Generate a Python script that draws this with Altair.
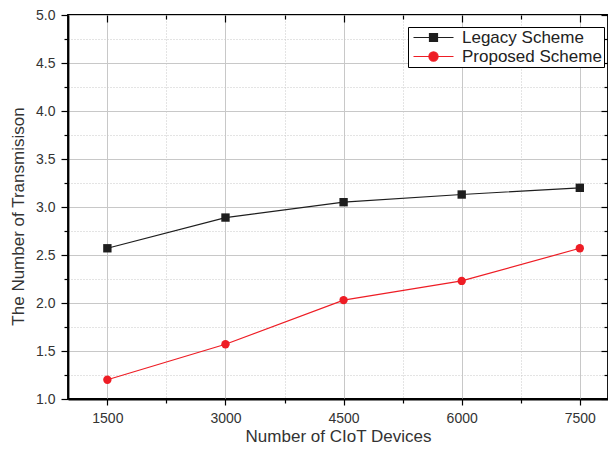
import altair as alt
import pandas as pd

devices = [1500, 3000, 4500, 6000, 7500]
legacy = [2.57, 2.89, 3.05, 3.13, 3.20]
proposed = [1.20, 1.57, 2.03, 2.23, 2.57]
series = ["Legacy Scheme", "Proposed Scheme"]
colors = ["#1e1e1e", "#ee1d25"]

x_major = [1500, 3000, 4500, 6000, 7500]
x_minor = [2250, 3750, 5250, 6750]
y_major = [1.0, 1.5, 2.0, 2.5, 3.0, 3.5, 4.0, 4.5, 5.0]
y_minor = [1.25, 1.75, 2.25, 2.75, 3.25, 3.75, 4.25, 4.75]

rows = []
for d, v in zip(devices, legacy):
    rows.append({"devices": d, "value": v, "scheme": series[0]})
for d, v in zip(devices, proposed):
    rows.append({"devices": d, "value": v, "scheme": series[1]})
df = pd.DataFrame(rows)

W, H = 540, 384
FONT = "Liberation Sans, Arial, sans-serif"

xs = alt.Scale(domain=[1000, 7858], nice=False, zero=False)
ys = alt.Scale(domain=[1.0, 5.0], nice=False, zero=False)

# legend symbols: line with marker (path units scaled by sqrt(size)/2 = 5)
sq = "M-1,0 H7 M2.2,-0.8 H3.8 V0.8 H2.2 Z"
k = 0.5523
r = 0.92
cx = 3.0
circ = (
    f"M-1,0 H7 M{cx + r},0 "
    f"C{cx + r},{r * k:.4f} {cx + r * k:.4f},{r} {cx},{r} "
    f"C{cx - r * k:.4f},{r} {cx - r},{r * k:.4f} {cx - r},0 "
    f"C{cx - r},{-r * k:.4f} {cx - r * k:.4f},{-r} {cx},{-r} "
    f"C{cx + r * k:.4f},{-r} {cx + r},{-r * k:.4f} {cx + r},0 Z"
)

legend = alt.Legend(
    title=None,
    orient="none",
    legendX=340,
    legendY=12,
    strokeColor="black",
    fillColor="white",
    padding=2,
    rowPadding=1,
    labelOffset=35,
    symbolSize=100,
    symbolOpacity=1,
    symbolStrokeWidth=1.2,
    symbolFillColor="black",
    symbolStrokeColor="black",
    labelFont=FONT,
    labelFontSize=17,
    labelColor="#222",
    cornerRadius=0,
)

base = alt.Chart(df)

lines = base.mark_line(strokeWidth=1.2).encode(
    x=alt.X("devices:Q", scale=xs, axis=alt.Axis(
        orient="bottom", values=x_major, grid=True, gridColor="#c8c8c8", gridWidth=1,
        tickSize=6, tickWidth=1.2, tickColor="black", domain=True, domainColor="black",
        domainWidth=1.8, labelPadding=6, labelFontSize=14, labelFont=FONT, labelColor="#333",
        title="Number of CIoT Devices", titleFont=FONT, titleFontSize=17,
        titleFontWeight="normal", titleColor="#333", titlePadding=3, format="d")),
    y=alt.Y("value:Q", scale=ys, axis=alt.Axis(
        orient="left", values=y_major, format=".1f", grid=True, gridColor="#c8c8c8", gridWidth=1,
        tickSize=7, tickWidth=1.2, tickColor="black", domain=True, domainColor="black",
        domainWidth=1.8, labelPadding=6, labelFontSize=14, labelFont=FONT, labelColor="#333",
        title="The Number of Transmisison", titleFont=FONT, titleFontSize=17,
        titleFontWeight="normal", titleColor="#333", titlePadding=8, titleY=201)),
    color=alt.Color("scheme:N", scale=alt.Scale(domain=series, range=colors), legend=None),
)

points = base.mark_point(filled=True, opacity=1, size=70).encode(
    x=alt.X("devices:Q", scale=xs, axis=alt.Axis(
        orient="bottom", values=x_minor, grid=True, gridColor="#c8c8c8", gridDash=[1, 2],
        gridWidth=1, tickSize=4, tickWidth=1.2, tickColor="black", domain=False,
        labels=False, title=None)),
    y=alt.Y("value:Q", scale=ys, axis=alt.Axis(
        orient="left", values=y_minor, grid=True, gridColor="#c8c8c8", gridDash=[1, 2],
        gridWidth=1, tickSize=4, tickWidth=1.2, tickColor="black", domain=False,
        labels=False, title=None)),
    color=alt.Color("scheme:N", scale=alt.Scale(domain=series, range=colors), legend=None),
    shape=alt.Shape("scheme:N", scale=alt.Scale(domain=series, range=["square", "circle"]), legend=None),
)

top_right_major = base.mark_point(opacity=0).encode(
    x=alt.X("devices:Q", scale=xs, axis=alt.Axis(
        orient="bottom", offset=-H, values=x_major, grid=False, tickSize=7, tickWidth=1.2,
        tickColor="black", domain=False, labels=False, title=None)),
    y=alt.Y("value:Q", scale=ys, axis=alt.Axis(
        orient="left", offset=-W, values=y_major, grid=False, tickSize=7, tickWidth=1.2,
        tickColor="black", domain=False, labels=False, title=None)),
)

top_right_minor = base.mark_point(opacity=0).encode(
    x=alt.X("devices:Q", scale=xs, axis=alt.Axis(
        orient="bottom", offset=-H, values=x_minor, grid=False, tickSize=4, tickWidth=1.2,
        tickColor="black", domain=False, labels=False, title=None)),
    y=alt.Y("value:Q", scale=ys, axis=alt.Axis(
        orient="left", offset=-W, values=y_minor, grid=False, tickSize=4, tickWidth=1.2,
        tickColor="black", domain=False, labels=False, title=None)),
)

legend_layer = base.mark_point(opacity=0, filled=True).encode(
    x=alt.X("devices:Q", scale=xs, axis=None),
    y=alt.Y("value:Q", scale=ys, axis=None),
    fill=alt.Fill("scheme:N", scale=alt.Scale(domain=series, range=colors), legend=legend),
    stroke=alt.Stroke("scheme:N", scale=alt.Scale(domain=series, range=colors), legend=legend),
    shape=alt.Shape("scheme:N", scale=alt.Scale(domain=series, range=[sq, circ]), legend=legend),
)

chart = (
    alt.layer(lines, points, top_right_major, top_right_minor, legend_layer)
    .resolve_axis(x="independent", y="independent")
    .resolve_scale(shape="independent", fill="independent", stroke="independent")
    .properties(
        width=W,
        height=H,
        autosize=alt.AutoSizeParams(type="none"),
        padding={"left": 60, "top": 7, "right": 0, "bottom": 47},
        background="white",
    )
    .configure_view(stroke="black", strokeWidth=1.8)
)

chart.save("out.html", embed_options={"renderer": "svg", "actions": False})
